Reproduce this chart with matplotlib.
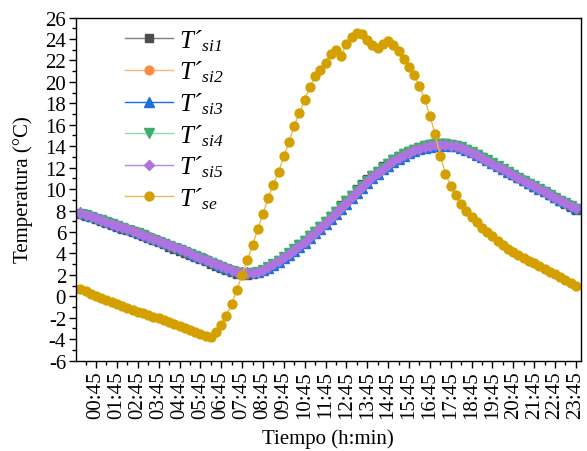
import matplotlib
matplotlib.use("Agg")
import matplotlib.pyplot as plt
import numpy as np
from matplotlib.ticker import MultipleLocator, FixedLocator

# exterior surface temperature T'se, every 15 min from 00:00 to 23:45
tse = [0.65, 0.45, 0.25, 0.05, -0.15, -0.35, -0.55, -0.75,
       -0.93, -1.1, -1.27, -1.43, -1.6, -1.75, -1.9, -2.05,
       -2.2, -2.4, -2.6, -2.78, -2.95, -3.12, -3.3, -3.5,
       -3.72, -3.8, -3.3, -2.65, -1.8, -0.7, 0.6, 2.0,
       3.35, 4.75, 6.25, 7.65, 9.15, 10.4, 11.6, 13.05,
       14.35, 15.9, 17.1, 18.35, 19.5, 20.5, 21.1, 21.8,
       22.6, 22.95, 22.45, 23.55, 24.2, 24.6, 24.45, 23.95,
       23.4, 23.2, 23.5, 23.8, 23.4, 22.9, 22.1, 21.4,
       20.65, 19.6, 18.4, 16.85, 15.15, 13.1, 11.45, 10.3,
       9.4, 8.65, 8.0, 7.4, 6.9, 6.4, 6.0, 5.6,
       5.2, 4.75, 4.45, 4.15, 3.87, 3.6, 3.33, 3.06,
       2.8, 2.55, 2.3, 2.05, 1.8, 1.55, 1.25, 0.92]

# interior surface temperatures T'si1..T'si5
tsi1 = [7.65, 7.5, 7.35, 7.19, 7.01, 6.84, 6.66, 6.49,
        6.31, 6.14, 5.98, 5.8, 5.61, 5.42, 5.22, 5.03,
        4.83, 4.64, 4.44, 4.24, 4.05, 3.85, 3.65, 3.45,
        3.25, 3.04, 2.83, 2.62, 2.42, 2.25, 2.11, 2.04,
        2.03, 2.1, 2.24, 2.44, 2.71, 3.03, 3.35, 3.7,
        4.05, 4.43, 4.83, 5.24, 5.68, 6.12, 6.57, 7.04,
        7.51, 7.99, 8.48, 8.97, 9.47, 9.96, 10.44, 10.9,
        11.33, 11.73, 12.11, 12.46, 12.78, 13.08, 13.34, 13.58,
        13.78, 13.95, 14.08, 14.18, 14.25, 14.27, 14.26, 14.2,
        14.1, 13.94, 13.73, 13.49, 13.24, 12.98, 12.7, 12.43,
        12.15, 11.87, 11.59, 11.32, 11.05, 10.78, 10.5, 10.23,
        9.96, 9.69, 9.42, 9.15, 8.89, 8.62, 8.36, 8.09]

tsi2 = [7.79, 7.64, 7.49, 7.34, 7.16, 6.99, 6.82, 6.64,
        6.47, 6.3, 6.14, 5.96, 5.77, 5.58, 5.39, 5.2,
        5.01, 4.82, 4.62, 4.43, 4.24, 4.04, 3.84, 3.64,
        3.44, 3.24, 3.04, 2.84, 2.64, 2.46, 2.32, 2.23,
        2.2, 2.22, 2.3, 2.44, 2.68, 2.97, 3.27, 3.59,
        3.92, 4.27, 4.65, 5.05, 5.47, 5.9, 6.34, 6.79,
        7.25, 7.72, 8.2, 8.69, 9.19, 9.69, 10.17, 10.65,
        11.09, 11.49, 11.87, 12.22, 12.55, 12.85, 13.13, 13.38,
        13.58, 13.75, 13.88, 13.98, 14.05, 14.08, 14.09, 14.06,
        13.98, 13.84, 13.65, 13.43, 13.18, 12.93, 12.67, 12.4,
        12.14, 11.87, 11.6, 11.34, 11.07, 10.81, 10.54, 10.28,
        10.02, 9.76, 9.5, 9.24, 8.99, 8.74, 8.49, 8.24]

tsi3 = [7.82, 7.67, 7.52, 7.37, 7.19, 7.02, 6.85, 6.67,
        6.5, 6.33, 6.17, 5.99, 5.8, 5.61, 5.42, 5.23,
        5.04, 4.85, 4.65, 4.46, 4.27, 4.07, 3.87, 3.67,
        3.47, 3.27, 3.07, 2.87, 2.67, 2.49, 2.35, 2.26,
        2.22, 2.23, 2.3, 2.43, 2.65, 2.93, 3.23, 3.55,
        3.88, 4.23, 4.61, 5.01, 5.43, 5.86, 6.3, 6.75,
        7.21, 7.68, 8.16, 8.65, 9.15, 9.65, 10.13, 10.61,
        11.05, 11.45, 11.84, 12.19, 12.52, 12.82, 13.1, 13.35,
        13.55, 13.73, 13.86, 13.96, 14.03, 14.06, 14.07, 14.05,
        13.98, 13.85, 13.67, 13.45, 13.2, 12.96, 12.7, 12.43,
        12.17, 11.9, 11.63, 11.37, 11.1, 10.84, 10.57, 10.31,
        10.05, 9.79, 9.53, 9.27, 9.02, 8.77, 8.52, 8.27]

tsi4 = [7.7, 7.55, 7.4, 7.25, 7.07, 6.9, 6.72, 6.55,
        6.37, 6.2, 6.04, 5.86, 5.67, 5.48, 5.29, 5.1,
        4.9, 4.71, 4.51, 4.32, 4.13, 3.93, 3.73, 3.53,
        3.33, 3.12, 2.92, 2.71, 2.51, 2.34, 2.2, 2.12,
        2.1, 2.15, 2.27, 2.45, 2.7, 3.02, 3.33, 3.66,
        4.0, 4.37, 4.76, 5.16, 5.59, 6.03, 6.47, 6.93,
        7.4, 7.87, 8.36, 8.85, 9.35, 9.84, 10.32, 10.79,
        11.23, 11.63, 12.0, 12.36, 12.68, 12.98, 13.25, 13.49,
        13.69, 13.86, 13.99, 14.09, 14.16, 14.19, 14.18, 14.13,
        14.04, 13.88, 13.68, 13.45, 13.2, 12.94, 12.67, 12.4,
        12.12, 11.85, 11.58, 11.31, 11.04, 10.78, 10.5, 10.24,
        9.97, 9.7, 9.44, 9.18, 8.92, 8.66, 8.4, 8.15]

tsi5 = [7.75, 7.6, 7.45, 7.3, 7.12, 6.95, 6.78, 6.6,
        6.43, 6.26, 6.1, 5.92, 5.73, 5.54, 5.35, 5.16,
        4.97, 4.78, 4.58, 4.39, 4.2, 4.0, 3.8, 3.6,
        3.4, 3.2, 3.0, 2.8, 2.6, 2.42, 2.28, 2.2,
        2.17, 2.2, 2.3, 2.45, 2.7, 3.0, 3.3, 3.62,
        3.95, 4.3, 4.68, 5.08, 5.5, 5.93, 6.37, 6.82,
        7.28, 7.75, 8.23, 8.72, 9.22, 9.72, 10.2, 10.68,
        11.12, 11.52, 11.9, 12.25, 12.58, 12.88, 13.15, 13.4,
        13.6, 13.77, 13.9, 14.0, 14.07, 14.1, 14.1, 14.06,
        13.98, 13.83, 13.63, 13.4, 13.15, 12.9, 12.63, 12.36,
        12.1, 11.83, 11.56, 11.3, 11.03, 10.77, 10.5, 10.24,
        9.98, 9.72, 9.46, 9.2, 8.95, 8.7, 8.45, 8.2]

tick_labels = ["00:45", "01:45", "02:45", "03:45", "04:45", "05:45",
               "06:45", "07:45", "08:45", "09:45", "10:45", "11:45",
               "12:45", "13:45", "14:45", "15:45", "16:45", "17:45",
               "18:45", "19:45", "20:45", "21:45", "22:45", "23:45"]

labels = ["T´$_{si1}$", "T´$_{si2}$", "T´$_{si3}$", "T´$_{si4}$",
          "T´$_{si5}$", "T´$_{se}$"]

plt.rcParams['font.family'] = 'Liberation Serif'
plt.rcParams['mathtext.fontset'] = 'custom'
plt.rcParams['mathtext.rm'] = 'Liberation Serif:italic'
plt.rcParams['mathtext.it'] = 'Liberation Serif:italic'
plt.rcParams['axes.unicode_minus'] = False

fig = plt.figure(figsize=(5.87, 4.52), dpi=100)
ax = fig.add_axes([0.129, 0.2, 0.86, 0.759])

x = np.arange(len(tse))
styles = [(tsi1, 's', 6.0, '#7f7f7f', '#4d4d4d'),
          (tsi2, 'o', 6.3, '#ffb27a', '#ff8c3c'),
          (tsi3, '^', 6.5, '#1a6fe0', '#1f6fdc'),
          (tsi4, 'v', 6.5, '#8fd9aa', '#3cb06a'),
          (tsi5, 'D', 5.6, '#b58ae3', '#ad74e0'),
          (tse, 'o', 6.4, '#e6bb55', '#d4a000')]

for (vals, mk, ms, lc, mc), lab in zip(styles, labels):
    ax.plot(x, vals, color=lc, lw=1, marker=mk, ms=ms, mfc=mc, mec=mc,
            label=lab)

ax.set_xlim(-0.9, 95.9)
ax.set_ylim(-6, 26)
ax.xaxis.set_major_locator(FixedLocator(range(3, 96, 4)))
ax.xaxis.set_minor_locator(FixedLocator(range(1, 96, 4)))
ax.set_xticklabels(tick_labels, rotation=90)
ax.yaxis.set_major_locator(MultipleLocator(2))
ax.yaxis.set_minor_locator(MultipleLocator(1))
ax.tick_params(which='major', direction='out', length=5, width=1,
               labelsize=15, pad=2, top=False, right=False)
ax.tick_params(which='minor', direction='out', length=3, width=1,
               top=False, right=False)
for sp in ax.spines.values():
    sp.set_linewidth(1)

ax.set_xlabel("Tiempo (h:min)", fontsize=15, labelpad=7)
ax.set_ylabel("Temperatura (°C)", fontsize=15, labelpad=9)

ax.legend(loc='upper left', bbox_to_anchor=(0.098, 0.972), frameon=False,
          prop={'style': 'italic', 'size': 18}, handlelength=1.9,
          handletextpad=0.25, labelspacing=0.24, borderpad=0,
          borderaxespad=0)

fig.savefig("out.png", dpi=100)
